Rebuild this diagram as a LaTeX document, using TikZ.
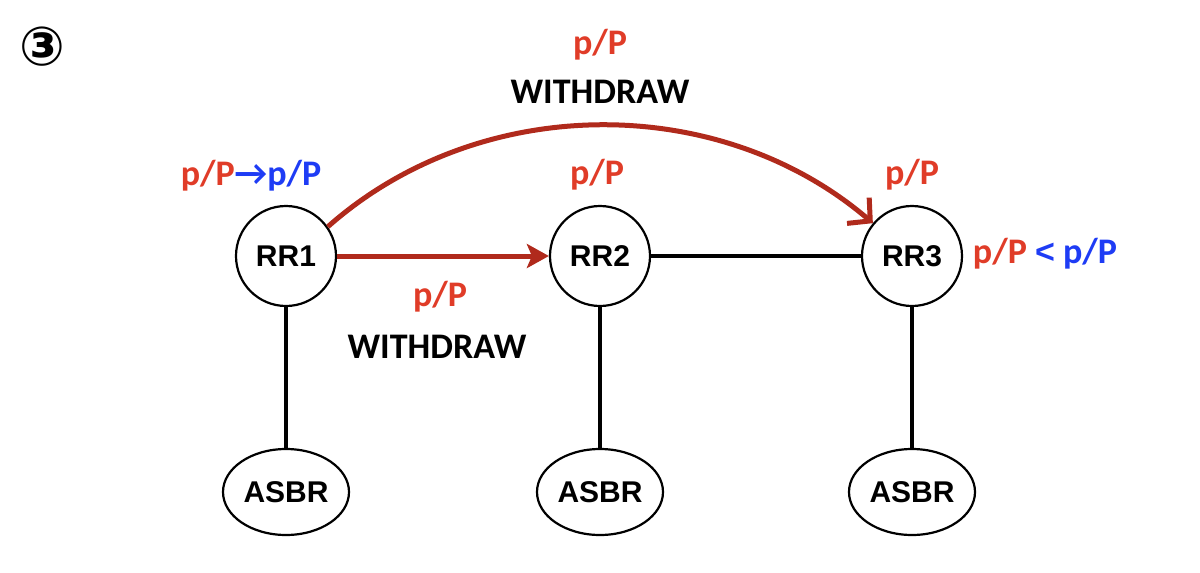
\documentclass[tikz,border=0pt]{standalone}
\usepackage{fontspec}
\setmainfont{Liberation Sans}
\newfontfamily\calib{Carlito}
\newfontfamily\djv{DejaVu Sans}
\usetikzlibrary{arrows.meta,shapes.geometric}
\definecolor{lblred}{HTML}{E03C28}
\definecolor{arrred}{HTML}{B02A1C}
\definecolor{lblblue}{HTML}{1E3CF5}
\tikzset{
  rr/.style={circle,draw=black,line width=2.2pt,minimum size=100pt,inner sep=0pt,font=\fontsize{30}{34}\selectfont\bfseries},
  asbr/.style={ellipse,draw=black,line width=2.2pt,minimum width=126pt,minimum height=86pt,inner sep=0pt,font=\fontsize{30}{34}\selectfont\bfseries},
  link/.style={line width=4pt,black},
  msg/.style={line width=5pt,arrred,-{Stealth[length=22pt,width=24pt,inset=5pt]}},
  msgc/.style={line width=5pt,arrred,-{Straight Barb[length=16pt,width=34pt]}},
  lbl/.style={inner sep=0pt,font=\calib\fontsize{36}{40}\selectfont\bfseries},
}
\begin{document}
\begin{tikzpicture}[x=1pt,y=-1pt]
\useasboundingbox (0,0) rectangle (1200,573);
\node[inner sep=0pt,font=\djv\fontsize{54}{58}\selectfont\bfseries] (num) at (42,47) {③};
\node[rr] (rr1) at (286,256) {RR1};
\node[rr] (rr2) at (600,256) {RR2};
\node[rr] (rr3) at (912,256) {RR3};
\node[asbr] (a1) at (286,492) {ASBR};
\node[asbr] (a2) at (600,492) {ASBR};
\node[asbr] (a3) at (912,492) {ASBR};
\draw[link] (rr1) -- (a1);
\draw[link] (rr2) -- (a2);
\draw[link] (rr3) -- (a3);
\draw[link] (rr2) -- (rr3);
\draw[msg] (rr1) -- (rr2);
\draw[msgc] (rr1.35) .. controls (480,92) and (720,92) .. (rr3.140);
\node[lbl,text=lblred] (t1) at (600,45) {p/P};
\node[lbl] (t2) at (600,92) {WITHDRAW};
\node[lbl,text=lblred] (b1) at (440,297) {p/P};
\node[lbl] (b2) at (437,347) {WITHDRAW};
\node[lbl] (l1) at (251,176) {\textcolor{lblred}{p/P}\textcolor{lblblue}{→p/P}};
\node[lbl,text=lblred] (l2) at (597,175) {p/P};
\node[lbl,text=lblred] (l3) at (912,175) {p/P};
\node[lbl] (l4) at (1045,254) {\textcolor{lblred}{p/P} \textcolor{lblblue}{{\rmfamily\fontsize{34}{36}\selectfont <} p/P}};
\end{tikzpicture}
\end{document}
